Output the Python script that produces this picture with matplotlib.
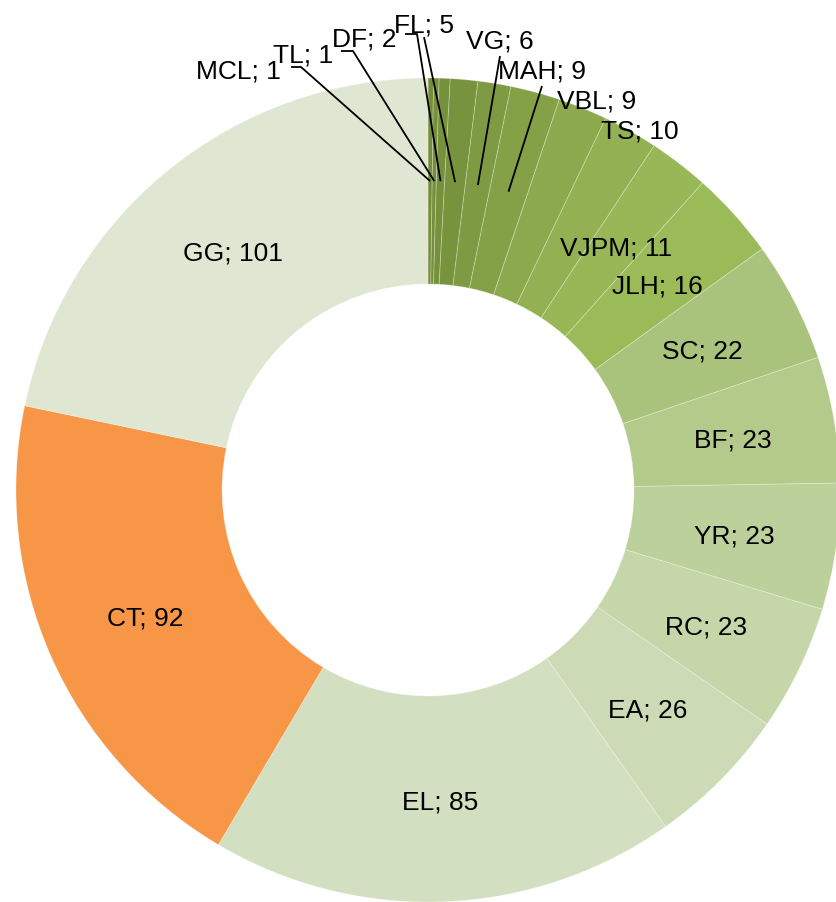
import numpy as np
import matplotlib
matplotlib.use("Agg")
import matplotlib.pyplot as plt

plt.rcParams['font.family'] = ['Liberation Sans', 'DejaVu Sans']

names = ["MCL", "TL", "DF", "FL", "VG", "MAH", "VBL", "TS", "VJPM", "JLH",
         "SC", "BF", "YR", "RC", "EA", "EL", "CT", "GG"]
counts = [1, 1, 2, 5, 6, 9, 9, 10, 11, 16, 22, 23, 23, 23, 26, 85, 92, 101]
colors = ["#738D3A", "#758F3B", "#76913C", "#78933D", "#7E9A42", "#85A147",
          "#8CA94D", "#93B052", "#98B756", "#9BBB59", "#A9C37C", "#B3CA8B",
          "#BCD09B", "#C5D6A9", "#CCDBB5", "#D3DFC1", "#F79646", "#DFE7D3"]

# labels drawn outside the ring (pixel positions of text baseline-centre)
outside = {
    "MCL": (238, 78), "TL": (303, 63), "DF": (364, 47), "FL": (424, 32),
    "VG": (500, 48), "MAH": (542, 78), "VBL": (597, 108), "TS": (640, 139),
}
# leader line end points near the label (pixels)
leaders = {
    "MCL": [(301, 68), (291, 68)],
    "TL": [(353, 52), (341, 52)],
    "DF": [(417, 35), (405, 35)],
    "FL": [(424, 38)],
    "VG": [(500, 57)],
    "MAH": [(542, 87)],
}

W, H = 837, 903
cx, cy = 428, 491
R_out, R_in = 412, 206

fig = plt.figure(figsize=(W / 100, H / 100), dpi=100)
ax = fig.add_axes([0, 0, 1, 1])

wedges, _ = ax.pie(counts, colors=colors, startangle=90, counterclock=False,
                   center=(cx, -cy), radius=R_out,
                   wedgeprops=dict(width=R_out - R_in, edgecolor=(1, 1, 1, 0.3),
                                   linewidth=0.6))

r_lab = (R_out + R_in) / 2
for w, name, n in zip(wedges, names, counts):
    ang = np.deg2rad((w.theta1 + w.theta2) / 2)
    tx = cx + r_lab * np.cos(ang)
    ty = -cy + r_lab * np.sin(ang)
    label = f"{name}; {n}"
    if name in outside:
        px, py = outside[name]
        ax.text(px, -py, label, ha="center", va="baseline", fontsize=19)
        if name in leaders:
            pts = [(tx, ty)] + [(x, -y) for x, y in leaders[name]]
            xs, ys = zip(*pts)
            ax.plot(xs, ys, color="black", lw=1.3, solid_capstyle="butt")
    else:
        ax.text(tx, ty, label, ha="center", va="center_baseline", fontsize=19)

ax.set_xlim(0, W)
ax.set_ylim(-H, 0)
ax.set_aspect("equal")
ax.axis("off")

fig.savefig("out.png", dpi=100, facecolor="white")
